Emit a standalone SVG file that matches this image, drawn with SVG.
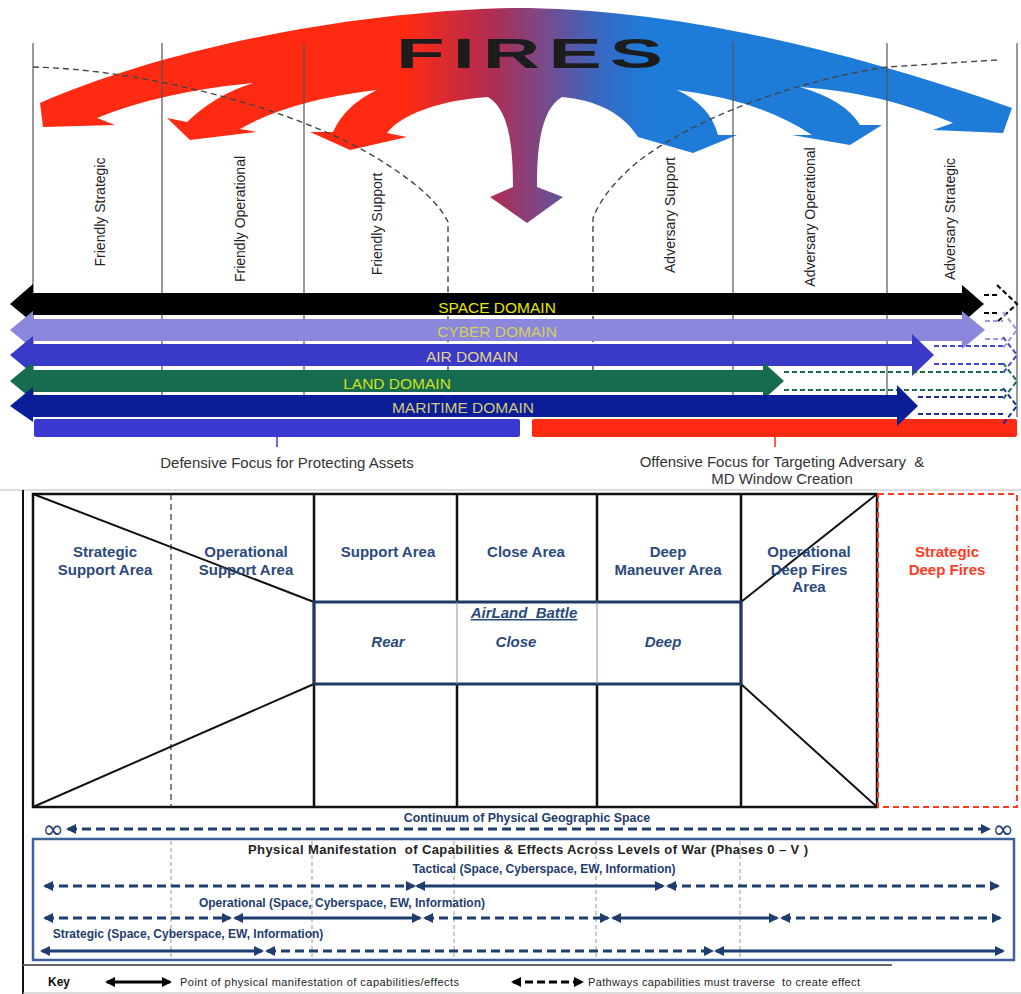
<svg xmlns="http://www.w3.org/2000/svg" width="1021" height="994" viewBox="0 0 1021 994">
<defs>
  <linearGradient id="fireGrad" gradientUnits="userSpaceOnUse" x1="405" y1="0" x2="645" y2="0">
    <stop offset="0" stop-color="#ff2a12"/>
    <stop offset="0.36" stop-color="#b02c52"/>
    <stop offset="0.58" stop-color="#784a8a"/>
    <stop offset="0.8" stop-color="#3a66c0"/>
    <stop offset="1" stop-color="#1e7bd8"/>
  </linearGradient>
  <marker id="ahN" viewBox="0 0 10 10" refX="8" refY="5" markerWidth="10" markerHeight="10" markerUnits="userSpaceOnUse" orient="auto-start-reverse">
    <path d="M0,0 L10,5 L0,10 z" fill="#1f3d6e"/>
  </marker>
  <marker id="ahK" viewBox="0 0 10 10" refX="8" refY="5" markerWidth="10" markerHeight="10" markerUnits="userSpaceOnUse" orient="auto-start-reverse">
    <path d="M0,0 L10,5 L0,10 z" fill="#000"/>
  </marker>
</defs>
<style>
  .vl{stroke:#555;stroke-width:1.2;fill:none}
  .vd{stroke:#444;stroke-width:1.4;stroke-dasharray:6 4;fill:none}
  .vt{font-family:'Liberation Sans',Arial,sans-serif;font-size:14px;fill:#222;text-anchor:middle}
  .dom{font-family:'Liberation Sans',Arial,sans-serif;font-size:15.5px;text-anchor:middle}
  .cap{font-family:'Liberation Sans',Arial,sans-serif;font-size:15px;fill:#333;text-anchor:middle}
  .thick{stroke:#111;stroke-width:2.5;fill:none}
  .lbl{font-family:'Liberation Sans',Arial,sans-serif;font-size:15px;font-weight:bold;fill:#2b4a7c;text-anchor:middle}
  .it{font-style:italic}
  .sol{stroke:#1f3d6e;stroke-width:3;fill:none;marker-start:url(#ahN);marker-end:url(#ahN)}
  .das{stroke:#1f3d6e;stroke-width:3;fill:none;stroke-dasharray:9 5;marker-start:url(#ahN);marker-end:url(#ahN)}
  .lev{font-family:'Liberation Sans',Arial,sans-serif;font-size:12px;font-weight:bold;fill:#1f3d6e;text-anchor:middle}
  .gd{stroke:#999;stroke-width:1;stroke-dasharray:4 3;fill:none}
  .key{font-family:'Liberation Sans',Arial,sans-serif;font-size:11px;fill:#222}
  .inf{font-family:'DejaVu Sans',sans-serif;font-size:26px;fill:#1f3d6e;text-anchor:middle}
</style>
<rect width="1021" height="994" fill="#fff"/>

<g id="fires">
  <path fill="url(#fireGrad)" d="M40,103 C150,55 330,12 515,8 C650,8 820,40 1012,108 L1003,133 L933,130 L953,123 Q880,92 800,87 Q845,100 860,125 L882,125 L850,145 L792,135 L812,135 Q760,100 677,90 Q710,105 718,135 L737,135 L693,153 L638,137 C622,112 595,100 562,97 C540,110 537,150 537,187 L563,197 L527,223 L490,197 L513,187 C513,150 510,110 488,97 C440,100 400,115 387,133 L407,137 L350,150 L310,132 L333,132 Q345,105 377,90 Q290,100 240,129 L257,132 L190,140 L167,118 L187,122 Q215,95 253,83 Q160,92 97,118 L115,125 L43,127 Z"/>
  <text transform="translate(396,68) scale(1.9,1)" font-family="'Liberation Sans',Arial,sans-serif" font-size="42" font-weight="bold" fill="#1c1c1c" letter-spacing="4.2">FIRES</text>
</g>

<!-- top section: columns -->
<g id="columns">
  <path class="vl" d="M33,43 V417 M162,43 V417 M304,43 V417 M733,42 V417 M887,43 V417 M1017,43 V417"/>
  <path class="vd" d="M33,67 C150,70 300,110 380,160 C420,185 440,205 448,222 L448,417"/>
  <path class="vd" d="M997,60 L887,67 C800,80 700,115 640,160 C615,180 600,200 593,218 L593,417"/>
</g>

<g id="column-labels">
  <text class="vt" transform="translate(105,212) rotate(-90)">Friendly Strategic</text>
  <text class="vt" transform="translate(245,219) rotate(-90)">Friendly Operational</text>
  <text class="vt" transform="translate(382,224) rotate(-90)">Friendly Support</text>
  <text class="vt" transform="translate(675,215) rotate(-90)">Adversary Support</text>
  <text class="vt" transform="translate(815,217) rotate(-90)">Adversary Operational</text>
  <text class="vt" transform="translate(955,219) rotate(-90)">Adversary Strategic</text>
</g>

<g id="focus-bars">
  <rect x="34" y="419" width="486" height="18" rx="2" fill="#3a3ad0"/>
  <line x1="277" y1="437" x2="277" y2="447" stroke="#3a3ad0" stroke-width="1.5"/>
  <rect x="532" y="419" width="485" height="18" rx="2" fill="#ff2a12"/>
  <line x1="775" y1="437" x2="775" y2="447" stroke="#ff2a12" stroke-width="1.5"/>
  <text class="cap" x="287" y="468">Defensive Focus for Protecting Assets</text>
  <text class="cap" x="782" y="467" xml:space="preserve">Offensive Focus for Targeting Adversary  &amp;</text>
  <text class="cap" x="782" y="484">MD Window Creation</text>
</g>

<g id="space-domain">
  <rect x="33" y="293" width="930" height="22" fill="#000"/>
  <polygon points="33,284 10,304 33,323" fill="#000"/>
  <polygon points="962,285 984,304 962,323" fill="#000"/>
  <path d="M984,295 H1000 M984,313 H1000 M997,285 L1017,304 L997,322" stroke="#000" stroke-width="2" stroke-dasharray="5 3" fill="none"/>
  <text class="dom" x="497" y="313" fill="#e8e800">SPACE DOMAIN</text>
</g>
<g id="cyber-domain">
  <rect x="33" y="319" width="930" height="22" fill="#8a87dd"/>
  <polygon points="33,311 10,330 33,349" fill="#8a87dd"/>
  <polygon points="962,311 985,330 962,349" fill="#8a87dd"/>
  <path d="M985,321 H1003 M985,339 H1003 M1003,312 L1017,330 L1003,348" stroke="#9b99e6" stroke-width="2" stroke-dasharray="5 3" fill="none"/>
  <text class="dom" x="497" y="337" fill="#d6cf5a">CYBER DOMAIN</text>
</g>
<g id="air-domain">
  <rect x="33" y="344" width="880" height="22" fill="#3a3ac8"/>
  <polygon points="33,336 10,355 33,374" fill="#3a3ac8"/>
  <polygon points="912,334 934,355 912,376" fill="#3a3ac8"/>
  <path d="M934,346 H1003 M934,364 H1003 M1003,337 L1017,355 L1003,373" stroke="#4545cc" stroke-width="2" stroke-dasharray="5 3" fill="none"/>
  <text class="dom" x="472" y="362" fill="#e2d38a">AIR DOMAIN</text>
</g>
<g id="land-domain">
  <rect x="33" y="370" width="731" height="22" fill="#176b4f"/>
  <polygon points="33,362 10,381 33,400" fill="#176b4f"/>
  <polygon points="763,362 784,381 763,400" fill="#176b4f"/>
  <path d="M784,372 H1003 M784,390 H1003 M1003,363 L1017,381 L1003,399" stroke="#1a6b50" stroke-width="2" stroke-dasharray="5 3" fill="none"/>
  <text class="dom" x="397" y="389" fill="#d0e020">LAND DOMAIN</text>
</g>
<g id="maritime-domain">
  <rect x="33" y="395" width="865" height="22" fill="#0a1e98"/>
  <polygon points="33,387 10,406 33,422" fill="#0a1e98"/>
  <polygon points="897,385 918,406 897,426" fill="#0a1e98"/>
  <path d="M918,397 H1003 M918,414 H1003 M1003,388 L1017,406 L1003,424" stroke="#1a2a9c" stroke-width="2" stroke-dasharray="5 3" fill="none"/>
  <text class="dom" x="463" y="413" fill="#d9c878">MARITIME DOMAIN</text>
</g>

<!-- bottom section -->
<g id="frame">
  <line x1="0" y1="490" x2="1021" y2="490" stroke="#bbb" stroke-width="1"/>
  <line x1="23" y1="490" x2="23" y2="994" stroke="#111" stroke-width="2"/>
  <line x1="23" y1="993" x2="1021" y2="993" stroke="#bbb" stroke-width="1"/>
</g>

<g id="zones">
  <rect x="33" y="494" width="844" height="313" class="thick"/>
  <line x1="171" y1="494" x2="171" y2="807" stroke="#333" stroke-width="1.2" stroke-dasharray="6 4"/>
  <path class="thick" d="M314,494 V807 M457,494 V602 M457,684 V807 M597,494 V602 M597,684 V807 M741,494 V807"/>
  <path d="M33,494 L314,602 M33,807 L314,684 M741,602 L877,494 M741,684 L877,807" stroke="#111" stroke-width="2" fill="none"/>
  <rect x="314" y="602" width="427" height="82" fill="none" stroke="#1f3864" stroke-width="3"/>
  <path d="M457,602 V684 M597,602 V684" stroke="#7f8fb0" stroke-width="1"/>
  <rect x="878" y="494" width="139" height="313" fill="none" stroke="#ff3b1f" stroke-width="2" stroke-dasharray="6 4"/>
</g>

<g id="zone-labels">
  <text class="lbl" x="105" y="557">Strategic</text>
  <text class="lbl" x="105" y="575">Support Area</text>
  <text class="lbl" x="246" y="557">Operational</text>
  <text class="lbl" x="246" y="575">Support Area</text>
  <text class="lbl" x="388" y="557">Support Area</text>
  <text class="lbl" x="526" y="557">Close Area</text>
  <text class="lbl" x="668" y="557">Deep</text>
  <text class="lbl" x="668" y="575">Maneuver Area</text>
  <text class="lbl" x="809" y="557">Operational</text>
  <text class="lbl" x="809" y="575">Deep Fires</text>
  <text class="lbl" x="809" y="592">Area</text>
  <text class="lbl" x="947" y="557" style="fill:#ff3b1f">Strategic</text>
  <text class="lbl" x="947" y="575" style="fill:#ff3b1f">Deep Fires</text>
  <text class="lbl it" x="524" y="618" font-size="14" text-decoration="underline" xml:space="preserve">AirLand  Battle</text>
  <text class="lbl it" x="388" y="647">Rear</text>
  <text class="lbl it" x="516" y="647">Close</text>
  <text class="lbl it" x="663" y="647">Deep</text>
</g>

<g id="continuum">
  <line x1="68" y1="829" x2="989" y2="829" class="das"/>
  <text class="inf" x="53" y="838">∞</text>
  <text class="inf" x="1003" y="838">∞</text>
  <text class="lev" x="527" y="822" font-size="12.4" style="font-size:12.4px">Continuum of Physical Geographic Space</text>
</g>

<g id="levels">
  <rect x="33" y="839" width="981" height="121" fill="none" stroke="#3e5f9a" stroke-width="2.5"/>
  <path class="gd" d="M171,841 V958 M312,841 V958 M454,841 V958 M596,841 V958 M740,841 V958"/>
  <text x="528" y="854" font-family="'Liberation Sans',Arial,sans-serif" font-size="13" font-weight="bold" fill="#222" text-anchor="middle" textLength="560" xml:space="preserve">Physical Manifestation  of Capabilities &amp; Effects Across Levels of War (Phases 0 – V )</text>
  <text class="lev" x="544" y="873">Tactical (Space, Cyberspace, EW, Information)</text>
  <line class="das" x1="45" y1="886" x2="414" y2="886"/>
  <line class="sol" x1="417" y1="886" x2="663" y2="886"/>
  <line class="das" x1="668" y1="886" x2="998" y2="886"/>
  <text class="lev" x="342" y="907">Operational (Space, Cyberspace, EW, Information)</text>
  <line class="das" x1="45" y1="918" x2="230" y2="918"/>
  <line class="sol" x1="235" y1="918" x2="420" y2="918"/>
  <line class="das" x1="425" y1="918" x2="608" y2="918"/>
  <line class="sol" x1="613" y1="918" x2="777" y2="918"/>
  <line class="das" x1="782" y1="918" x2="1000" y2="918"/>
  <text class="lev" x="188" y="938">Strategic (Space, Cyberspace, EW, Information)</text>
  <line class="sol" x1="42" y1="951" x2="262" y2="951"/>
  <line class="das" x1="267" y1="951" x2="712" y2="951"/>
  <line class="sol" x1="716" y1="951" x2="1003" y2="951"/>
  <line x1="23" y1="965" x2="892" y2="965" stroke="#666" stroke-width="2"/>
</g>

<g id="key">
  <text x="48" y="986" font-family="'Liberation Sans',Arial,sans-serif" font-size="12" font-weight="bold" fill="#111">Key</text>
  <line x1="107" y1="982" x2="170" y2="982" stroke="#000" stroke-width="3" marker-start="url(#ahK)" marker-end="url(#ahK)"/>
  <text class="key" x="180" y="986" textLength="279">Point of physical manifestation of capabilities/effects</text>
  <line x1="513" y1="982" x2="582" y2="982" stroke="#000" stroke-width="3" stroke-dasharray="8 4" marker-start="url(#ahK)" marker-end="url(#ahK)"/>
  <text class="key" x="588" y="986" textLength="272" xml:space="preserve">Pathways capabilities must traverse  to create effect</text>
</g>
</svg>
